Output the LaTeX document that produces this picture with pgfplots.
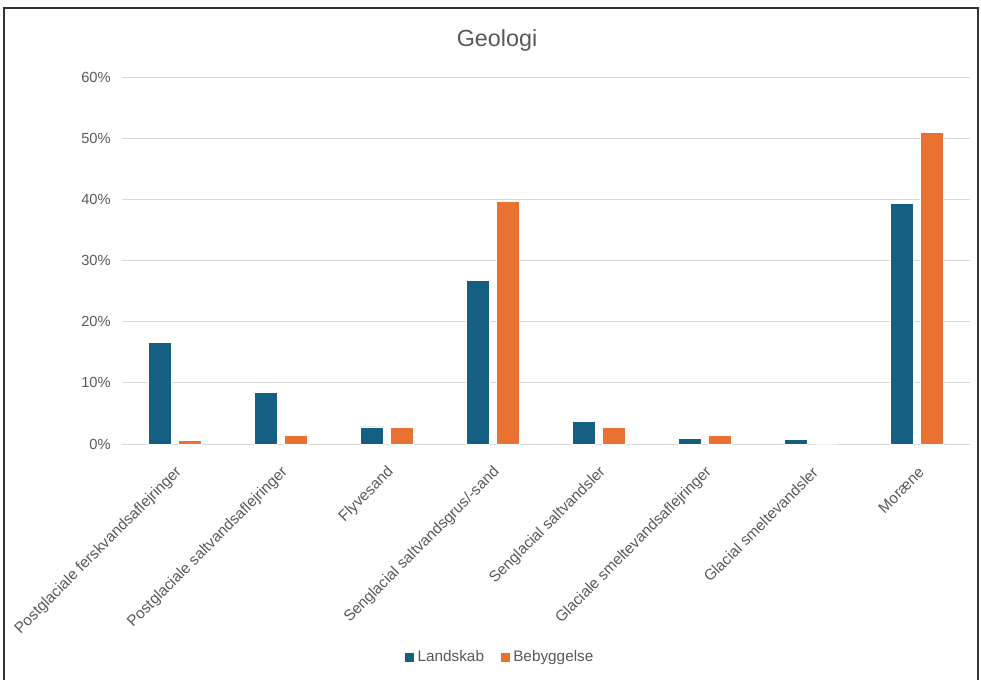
\documentclass[border=0pt]{standalone}
\usepackage{pgfplots}
\pgfplotsset{compat=1.18}
\usepackage{fontspec}
\setmainfont{Liberation Sans}
\definecolor{landskab}{HTML}{156082}
\definecolor{bebyg}{HTML}{E97132}
\definecolor{txt}{HTML}{595959}
\definecolor{gridc}{HTML}{D9D9D9}
\begin{document}
\begin{tikzpicture}
% page and chart frame
\path[use as bounding box] (0,0) rectangle (735.75pt,-510pt);
\draw[line width=1pt, black!80] (3pt,-510pt) -- (3pt,-6pt) -- (733.5pt,-6pt) -- (733.5pt,-510pt);
\node[txt, font=\fontsize{17.5}{19}\selectfont] at (372.75pt,-30pt) {Geologi};
\begin{axis}[
  at={(91.5pt,-333pt)}, anchor=south west,
  scale only axis, width=636pt, height=275.25pt,
  xmin=-0.5, xmax=7.5, ymin=0, ymax=60,
  ybar, bar width=17.25pt,
  ytick={0,10,...,60},
  yticklabel={\pgfmathprintnumber{\tick}\%},
  ymajorgrids, grid style={gridc, line width=0.75pt},
  axis x line*=bottom, axis y line*=left,
  y axis line style={draw=none},
  x axis line style={gridc, line width=0.75pt, -},
  xtick=data, xtick style={draw=none}, ytick style={draw=none},
  xticklabels={Postglaciale ferskvandsaflejringer, Postglaciale saltvandsaflejringer, Flyvesand, Senglacial saltvandsgrus/-sand, Senglacial saltvandsler, Glaciale smeltevandsaflejringer, Glacial smeltevandsler, Moræne},
  xticklabel style={rotate=45, anchor=east, font=\fontsize{11.5}{13}\selectfont, text=txt, xshift=-5pt, yshift=-13pt},
  yticklabel style={font=\fontsize{11}{13}\selectfont, text=txt, xshift=-5pt},
  /pgf/number format/assume math mode=true,
  legend style={at={(0.446,-0.58)}, anchor=center, draw=none, legend columns=2,
    font=\fontsize{11.5}{13}\selectfont, text=txt,
    /tikz/every even column/.append style={column sep=10pt}},
  legend image code/.code={\fill[#1] (0pt,-3.75pt) rectangle (7.5pt,3.75pt);},
]
\addplot[fill=landskab, draw=white, line width=0.4pt, bar shift=-11.25pt] coordinates {
  (0,16.6) (1,8.5) (2,2.8) (3,26.8) (4,3.7) (5,0.9) (6,0.8) (7,39.4)};
\addplot[fill=bebyg, draw=white, line width=0.4pt, bar shift=11.25pt] coordinates {
  (0,0.65) (1,1.4) (2,2.7) (3,39.7) (4,2.7) (5,1.4) (6,0) (7,51.0)};
\legend{Landskab, Bebyggelse}
\end{axis}
\end{tikzpicture}
\end{document}
